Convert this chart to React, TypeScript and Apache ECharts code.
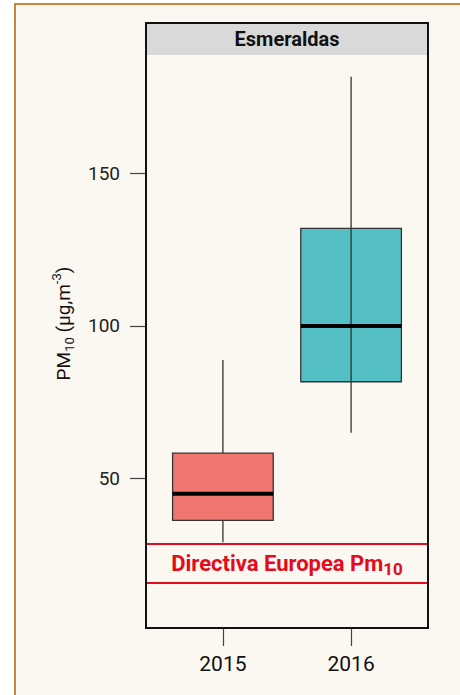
import React, { useEffect, useRef } from "react";
import * as echarts from "echarts";

// ---- data ----
const YEARS = ["2015", "2016"];
const X_POS = [1, 2];
const WHISKER_LOW = [29.1, 65.0];
const Q1 = [36.3, 81.7];
const MEDIAN = [45.0, 100.0];
const Q3 = [58.3, 132.0];
const WHISKER_HIGH = [88.8, 181.7];
const Y_TICKS = [50, 100, 150];
const DIRECTIVE_BAND = [15.9, 28.7];
const PANEL_TITLE = "Esmeraldas";

// ---- styles / layout ----
const BOX_COLORS = ["#f07670", "#54bfc4"];
const LINE_THROUGH = [false, true];
const BOX_W = 0.785;
const RED = "#e30b1c";
const FONT = "Roboto, 'Noto Sans', sans-serif";
const G_LEFT = 146;
const G_RIGHT = 32;
const G_TOP = 55;
const G_BOTTOM = 67;
const STRIP_H = 32;
const W = 460;
const H = 695;

export default function App() {
  const ref = useRef<HTMLDivElement>(null);
  useEffect(() => {
    if (!ref.current) return;
    const chart = echarts.init(ref.current, undefined, { renderer: "svg" });
    const data = X_POS.map((x, i) => [
      x,
      WHISKER_LOW[i],
      Q1[i],
      MEDIAN[i],
      Q3[i],
      WHISKER_HIGH[i],
      i,
    ]);
    const plotW = W - G_LEFT - G_RIGHT;
    const plotH = H - G_TOP - G_BOTTOM;
    chart.setOption({
      animation: false,
      backgroundColor: "transparent",
      textStyle: { fontFamily: FONT },
      grid: { left: G_LEFT, right: G_RIGHT, top: G_TOP, bottom: G_BOTTOM, show: false },
      xAxis: {
        type: "value",
        min: 0.4,
        max: 2.6,
        axisLine: { show: false },
        splitLine: { show: false },
        axisTick: {
          show: true,
          length: 18,
          customValues: X_POS,
          lineStyle: { color: "#444", width: 1.2 },
        },
        axisLabel: {
          customValues: X_POS,
          formatter: (v: number) => YEARS[Math.round(v) - 1] ?? "",
          fontSize: 21,
          color: "#111",
          margin: 25,
          fontFamily: FONT,
        },
      },
      yAxis: {
        type: "value",
        min: 1,
        max: 188.8,
        axisLine: { show: false },
        splitLine: { show: false },
        axisTick: {
          show: true,
          length: 16,
          customValues: Y_TICKS,
          lineStyle: { color: "#444", width: 1.2 },
        },
        axisLabel: {
          customValues: Y_TICKS,
          fontSize: 19,
          color: "#222",
          margin: 26,
          fontFamily: FONT,
        },
      },
      graphic: [
        {
          type: "rect",
          shape: { x: G_LEFT, y: G_TOP - STRIP_H, width: plotW, height: STRIP_H },
          style: { fill: "#d9d9d9" },
          z: 1,
        },
        {
          type: "text",
          x: G_LEFT + plotW / 2,
          y: G_TOP - STRIP_H / 2,
          style: {
            text: PANEL_TITLE,
            fontSize: 20,
            fontWeight: "bold",
            fontFamily: FONT,
            fill: "#111",
            align: "center",
            verticalAlign: "middle",
          },
          z: 5,
        },
        {
          type: "rect",
          shape: { x: G_LEFT, y: G_TOP - STRIP_H, width: plotW, height: plotH + STRIP_H },
          style: { fill: "none", stroke: "#111", lineWidth: 2 },
          z: 100,
        },
        {
          type: "text",
          x: 63,
          y: (G_TOP - STRIP_H + H - G_BOTTOM) / 2 - 2,
          rotation: Math.PI / 2,
          style: {
            text: "{m|PM}{sub|10}{m| (µg,m}{sup|-3}{m|)}",
            fontFamily: FONT,
            align: "center",
            verticalAlign: "middle",
            fill: "#111",
            rich: {
              m: { fontSize: 19, lineHeight: 26, fill: "#111", fontFamily: FONT },
              sub: { fontSize: 13, lineHeight: 13, verticalAlign: "bottom", fill: "#111", fontFamily: FONT },
              sup: { fontSize: 13, lineHeight: 13, verticalAlign: "top", fill: "#111", fontFamily: FONT },
            },
          },
          z: 5,
        },
      ],
      series: [
        {
          type: "custom",
          data,
          z: 3,
          renderItem: (params: any, api: any) => {
            const x = api.value(0);
            const idx = api.value(6);
            const lo = api.coord([x, api.value(1)]);
            const q1 = api.coord([x, api.value(2)]);
            const med = api.coord([x, api.value(3)]);
            const q3 = api.coord([x, api.value(4)]);
            const hi = api.coord([x, api.value(5)]);
            const w = api.size([BOX_W, 0])[0];
            const cx = lo[0];
            const whiskerStyle = { stroke: "#333", lineWidth: 1.3 };
            const children: any[] = [
              {
                type: "line",
                shape: { x1: cx, y1: lo[1], x2: cx, y2: q1[1] },
                style: whiskerStyle,
              },
              {
                type: "line",
                shape: { x1: cx, y1: q3[1], x2: cx, y2: hi[1] },
                style: whiskerStyle,
              },
              {
                type: "rect",
                shape: { x: cx - w / 2, y: q3[1], width: w, height: q1[1] - q3[1] },
                style: { fill: BOX_COLORS[idx], stroke: "#333", lineWidth: 1.3 },
              },
            ];
            if (LINE_THROUGH[idx]) {
              children.push({
                type: "line",
                shape: { x1: cx, y1: q3[1], x2: cx, y2: q1[1] },
                style: whiskerStyle,
              });
            }
            children.push({
              type: "line",
              shape: { x1: cx - w / 2, y1: med[1], x2: cx + w / 2, y2: med[1] },
              style: { stroke: "#000", lineWidth: 4 },
            });
            return { type: "group", children };
          },
          markLine: {
            silent: true,
            symbol: "none",
            label: { show: false },
            lineStyle: { color: RED, width: 2, type: "solid" },
            data: DIRECTIVE_BAND.map((v) => ({ yAxis: v })),
          },
          markArea: {
            silent: true,
            itemStyle: { color: "rgba(0,0,0,0)" },
            label: {
              show: true,
              position: "inside",
              formatter: "{m|Directiva Europea Pm}{sub|10}",
              rich: {
                m: { fontSize: 22, fontWeight: "bold", color: RED, lineHeight: 28, fontFamily: FONT },
                sub: {
                  fontSize: 17,
                  fontWeight: "bold",
                  color: RED,
                  lineHeight: 13,
                  verticalAlign: "bottom",
                  fontFamily: FONT,
                },
              },
            },
            data: [[{ yAxis: DIRECTIVE_BAND[0] }, { yAxis: DIRECTIVE_BAND[1] }]],
          },
        },
      ],
    });
    return () => chart.dispose();
  }, []);
  return (
    <div style={{ position: "fixed", left: 0, top: 0, width: W, height: H, background: "#fff" }}>
      <div
        style={{
          position: "absolute",
          left: 14,
          top: 3,
          width: W - 14,
          height: H - 3,
          boxSizing: "border-box",
          background: "#fbf7f1",
          borderLeft: "2px solid #c88638",
          borderTop: "2px solid #c88638",
        }}
      />
      <div ref={ref} style={{ position: "absolute", left: 0, top: 0, width: W, height: H }} />
    </div>
  );
}
